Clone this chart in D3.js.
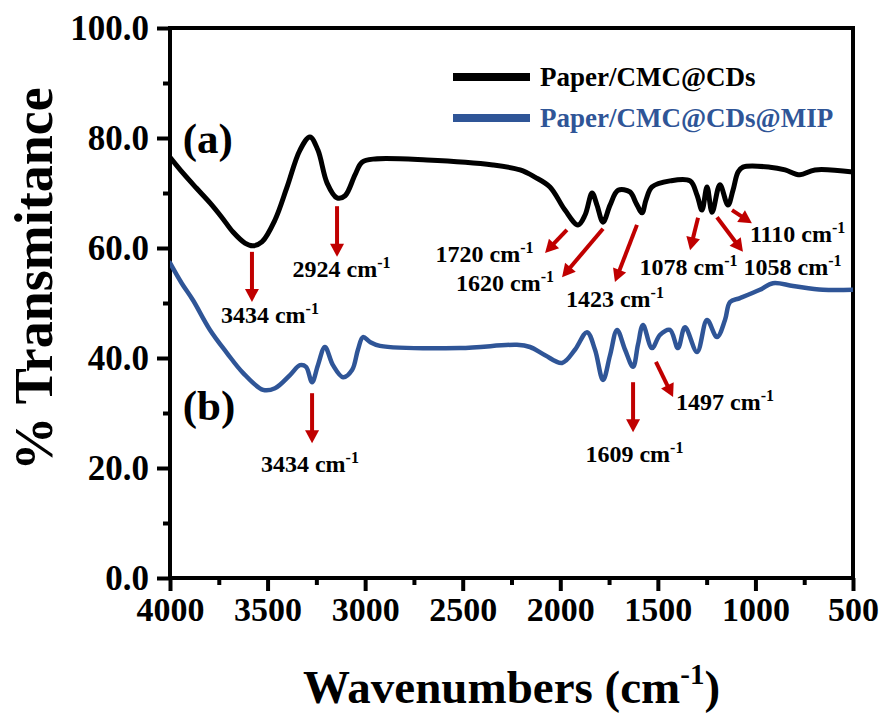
<!DOCTYPE html>
<html>
<head>
<meta charset="utf-8">
<script src="https://cdn.jsdelivr.net/npm/d3@7"></script>
<style>
  html, body { margin: 0; padding: 0; background: #fff; }
  svg { display: block; }
</style>
</head>
<body>
<svg id="chart" width="886" height="719"></svg>
<script>
// FTIR spectra: wavenumber (cm-1) vs. % transmittance
const seriesNames = ["Paper/CMC@CDs", "Paper/CMC@CDs@MIP"];
const panelLabels = ["(a)", "(b)"];

const wavenumbersA = [4000, 3933, 3865, 3795, 3735, 3677, 3616, 3575, 3529, 3462, 3400, 3334, 3283, 3242, 3195, 3144, 3103, 3052, 3016, 2949, 2683, 2345, 2206, 2130, 2053, 1976, 1909, 1873, 1837, 1812, 1781, 1745, 1704, 1643, 1612, 1581, 1561, 1530, 1438, 1335, 1299, 1274, 1248, 1222, 1182, 1141, 1115, 1089, 1064, 925, 848, 772, 695, 500];
const transmittanceA = [76.5, 73.6, 70.9, 68.2, 65.6, 62.9, 60.9, 60.4, 61.1, 65.1, 71.1, 77.8, 80.2, 77.8, 71.8, 69.1, 69.5, 73.3, 75.6, 76.2, 76.0, 75.1, 74.2, 72.9, 71.1, 66.9, 64.2, 66.0, 70.0, 67.8, 64.7, 67.8, 70.5, 70.2, 68.2, 66.4, 68.7, 71.1, 72.2, 72.2, 69.6, 66.9, 71.1, 66.5, 71.5, 67.8, 70.5, 73.8, 74.7, 74.7, 74.2, 73.3, 74.2, 73.8];

const wavenumbersB = [4000, 3940, 3882, 3795, 3708, 3626, 3523, 3462, 3385, 3334, 3303, 3272, 3242, 3206, 3165, 3113, 3067, 3037, 3011, 2975, 2924, 2514, 2222, 2155, 2078, 1991, 1925, 1863, 1822, 1781, 1745, 1709, 1668, 1627, 1602, 1576, 1530, 1489, 1438, 1397, 1361, 1299, 1248, 1197, 1156, 1130, 1079, 977, 910, 807, 654, 500];
const transmittanceB = [57.3, 53.6, 50.5, 45.1, 40.9, 37.3, 34.2, 34.5, 36.9, 38.7, 38.4, 35.6, 38.7, 42.0, 38.7, 36.5, 37.8, 41.5, 43.8, 42.9, 42.2, 41.8, 42.4, 42.0, 40.5, 39.1, 41.5, 44.7, 41.5, 36.0, 40.5, 45.1, 41.5, 38.4, 42.4, 46.0, 41.8, 44.2, 45.1, 41.8, 45.6, 41.1, 46.9, 43.8, 46.9, 50.2, 50.9, 52.4, 53.6, 53.1, 52.4, 52.4];

const xTicks = [4000, 3500, 3000, 2500, 2000, 1500, 1000, 500];
const xMinorTicks = [3750, 3250, 2750, 2250, 1750, 1250, 750];
const yTicks = [0, 20, 40, 60, 80, 100];
const yMinorTicks = [10, 30, 50, 70, 90];

// Band assignments: arrow tail/head and label anchor, in (wavenumber, %T)
const bandLabels = ["3434", "2924", "1720", "1620", "1423", "1078", "1058", "1110", "3434", "1609", "1497"];
const bandArrowFrom = [[3580, 59.3], [3144, 67.6], [1966, 63.3], [1781, 63.5], [1607, 64.2], [1294, 65.5], [1197, 65.6], [1120, 66.9], [3272, 33.6], [1627, 35.6], [1510, 39.3]];
const bandArrowTo = [[3580, 50.2], [3144, 58.4], [2078, 59.1], [1991, 54.7], [1720, 53.8], [1335, 59.6], [1064, 59.3], [1018, 64.5], [3272, 24.5], [1627, 26.5], [1422, 32.9]];
const bandTextAt = [[3488, 46.4], [3121, 54.7], [2388, 57.5], [2283, 52.2], [1720, 49.3], [1343, 55.1], [810, 55.1], [784, 61.1], [3283, 19.3], [1620, 21.1], [1156, 30.5]];
const panelLabelAt = [[3935, 77.3], [3935, 28.8]];

const colors = ["#000000", "#2f5597"];
const red = "#c00000";
const fontFamily = "'Liberation Serif', 'Times New Roman', Times, serif";

const svg = d3.select("#chart");
const plot = { left: 170, right: 853, top: 28, bottom: 578 };

const x = d3.scaleLinear().domain([4000, 500]).range([plot.left, plot.right]);
const y = d3.scaleLinear().domain([0, 100]).range([plot.bottom, plot.top]);

// Axes
const axisStroke = 4;
const yAxis = svg.append("g").attr("transform", `translate(${plot.left},0)`)
  .call(d3.axisLeft(y).tickValues(yTicks).tickFormat(d3.format(".1f")).tickSize(13).tickPadding(8));
const yMinor = svg.append("g").attr("transform", `translate(${plot.left},0)`)
  .call(d3.axisLeft(y).tickValues(yMinorTicks).tickFormat("").tickSize(7));
const xAxis = svg.append("g").attr("transform", `translate(0,${plot.bottom})`)
  .call(d3.axisBottom(x).tickValues(xTicks).tickFormat(d3.format("d")).tickSize(13).tickPadding(6));
const xMinor = svg.append("g").attr("transform", `translate(0,${plot.bottom})`)
  .call(d3.axisBottom(x).tickValues(xMinorTicks).tickFormat("").tickSize(7));

[yAxis, yMinor, xAxis, xMinor].forEach(g => {
  g.select(".domain").remove();
  g.selectAll(".tick line").attr("stroke", "#000").attr("stroke-width", axisStroke);
  g.selectAll(".tick text")
    .attr("fill", "#000")
    .style("font-family", fontFamily)
    .style("font-weight", "bold")
    .style("font-size", "34px");
});
yAxis.selectAll(".tick text").style("font-size", "35px");

// Plot frame
svg.append("rect")
  .attr("x", plot.left).attr("y", plot.top)
  .attr("width", plot.right - plot.left).attr("height", plot.bottom - plot.top)
  .attr("fill", "none").attr("stroke", "#000").attr("stroke-width", axisStroke);

// Spectra
const line = d3.line()
  .x(d => x(d[0])).y(d => y(d[1]))
  .curve(d3.curveCatmullRom.alpha(0.5));

const series = [
  d3.zip(wavenumbersA, transmittanceA),
  d3.zip(wavenumbersB, transmittanceB)
];

svg.append("defs").append("clipPath").attr("id", "plotClip")
  .append("rect").attr("x", plot.left).attr("y", plot.top)
  .attr("width", plot.right - plot.left).attr("height", plot.bottom - plot.top);

svg.append("g").attr("clip-path", "url(#plotClip)")
  .selectAll("path.spectrum").data(series).join("path")
  .attr("class", "spectrum")
  .attr("d", line)
  .attr("fill", "none")
  .attr("stroke", (d, i) => colors[i])
  .attr("stroke-width", (d, i) => i === 0 ? 5 : 4.5)
  .attr("stroke-linejoin", "round")
  .attr("stroke-linecap", "round");

// Band arrows
const arrows = svg.append("g");
bandLabels.forEach((lab, i) => {
  const x0 = x(bandArrowFrom[i][0]), y0 = y(bandArrowFrom[i][1]);
  const x1 = x(bandArrowTo[i][0]), y1 = y(bandArrowTo[i][1]);
  const ang = Math.atan2(y1 - y0, x1 - x0);
  const headLen = 13, headHalf = 7;
  const bx = x1 - headLen * Math.cos(ang), by = y1 - headLen * Math.sin(ang);
  arrows.append("line")
    .attr("x1", x0).attr("y1", y0).attr("x2", bx + Math.cos(ang)).attr("y2", by + Math.sin(ang))
    .attr("stroke", red).attr("stroke-width", 4);
  const px = -Math.sin(ang) * headHalf, py = Math.cos(ang) * headHalf;
  arrows.append("path")
    .attr("d", `M${x1},${y1}L${bx + px},${by + py}L${bx - px},${by - py}Z`)
    .attr("fill", red);

  const t = arrows.append("text")
    .attr("x", x(bandTextAt[i][0])).attr("y", y(bandTextAt[i][1]))
    .attr("text-anchor", "middle")
    .style("font-family", fontFamily).style("font-weight", "bold").style("font-size", "24px")
    .attr("fill", "#000");
  t.append("tspan").text(lab + " cm");
  t.append("tspan").attr("dy", -9).style("font-size", "16px").text("-1");
});

// Panel labels
svg.append("g").selectAll("text").data(panelLabels).join("text")
  .attr("x", (d, i) => x(panelLabelAt[i][0]))
  .attr("y", (d, i) => y(panelLabelAt[i][1]))
  .style("font-family", fontFamily).style("font-weight", "bold").style("font-size", "43px")
  .attr("fill", "#000")
  .text(d => d);

// Legend
const legend = svg.append("g").attr("transform", "translate(453,77)");
seriesNames.forEach((name, i) => {
  const g = legend.append("g").attr("transform", `translate(0,${i * 41})`);
  g.append("line").attr("x1", 0).attr("x2", 77).attr("y1", 0).attr("y2", 0)
    .attr("stroke", colors[i]).attr("stroke-width", 8);
  g.append("text").attr("x", 87).attr("y", 9)
    .style("font-family", fontFamily).style("font-weight", "bold").style("font-size", "27px")
    .attr("fill", colors[i]).text(name);
});

// Axis titles
svg.append("text")
  .attr("transform", `translate(52,279) rotate(-90)`)
  .attr("text-anchor", "middle")
  .style("font-family", fontFamily).style("font-weight", "bold").style("font-size", "54px")
  .attr("fill", "#000")
  .text("% Transmitance");

const xt = svg.append("text")
  .attr("x", (plot.left + plot.right) / 2).attr("y", 703)
  .attr("text-anchor", "middle")
  .style("font-family", fontFamily).style("font-weight", "bold").style("font-size", "47px")
  .attr("fill", "#000");
xt.append("tspan").text("Wavenumbers (cm");
xt.append("tspan").attr("dy", -19).style("font-size", "29px").text("-1");
xt.append("tspan").attr("dy", 19).text(")");
</script>
</body>
</html>
